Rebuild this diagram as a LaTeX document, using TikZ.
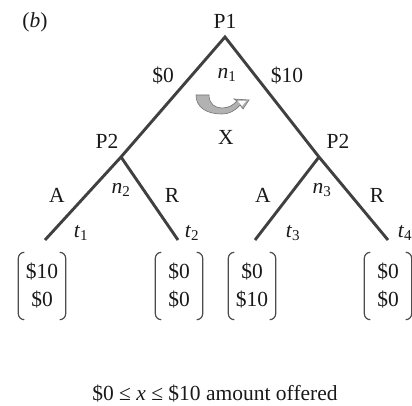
\documentclass[tikz,border=0pt]{standalone}
\usepackage{fontspec}
\setmainfont{Liberation Serif}
\begin{document}
\begin{tikzpicture}[x=1pt,y=-1pt,
  edge/.style={draw=black!75, line width=2.9pt, line join=miter},
  lbl/.style={font=\fontsize{21.5}{25}\selectfont, inner sep=0pt, text=black!90},
  vec/.style={font=\fontsize{21.5}{28}\selectfont, inner sep=0pt, align=center, minimum width=47pt, minimum height=67pt, text=black!90},
  br/.style={draw=black!70, line width=1.2pt}]
\useasboundingbox (0,0) rectangle (412,406);
% tree points
\coordinate (p1) at (225,37);
\coordinate (n2) at (121,157);
\coordinate (n3) at (319,157);
\coordinate (t1) at (45,240);
\coordinate (t2) at (178,240);
\coordinate (t3) at (255,240);
\coordinate (t4) at (388,240);
% edges
\draw[edge] (t1) -- (n2) -- (p1) -- (n3) -- (t4);
\draw[edge] (n2) -- (t2);
\draw[edge] (n3) -- (t3);
% labels
\node[lbl] (lb) at (35,22) {(\textit{b})};
\node[lbl] (lp1) at (225,21) {P1};
\node[lbl] (l0) at (163,76) {\$0};
\node[lbl] (l10) at (287,76) {\$10};
\node[lbl] (ln1) at (227,75) {\textit{n}\textsubscript{1}};
\node[lbl] (lx) at (226,137) {X};
\node[lbl] (lp2a) at (107,141) {P2};
\node[lbl] (lp2b) at (338,141) {P2};
\node[lbl] (la1) at (57,195) {A};
\node[lbl] (ln2) at (121,190) {\textit{n}\textsubscript{2}};
\node[lbl] (lr1) at (172,195) {R};
\node[lbl] (la2) at (263,195) {A};
\node[lbl] (ln3) at (322,190) {\textit{n}\textsubscript{3}};
\node[lbl] (lr2) at (377,195) {R};
\node[lbl] (lt1) at (81,233) {\textit{t}\textsubscript{1}};
\node[lbl] (lt2) at (192,233) {\textit{t}\textsubscript{2}};
\node[lbl] (lt3) at (293,233) {\textit{t}\textsubscript{3}};
\node[lbl] (lt4) at (405,233) {\textit{t}\textsubscript{4}};
% curved arrow
\filldraw[fill=black!30, draw=black!55, line width=0.6pt]
  (196,95) -- (209,95) .. controls (209,104) and (215,108) .. (222,108)
  .. controls (229,108) and (233,105) .. (237,101) -- (234,99) -- (249,100)
  -- (243,109) -- (240,105) .. controls (235,111) and (229,114) .. (222,114)
  .. controls (206,114) and (196,107) .. (196,95) -- cycle;
\fill[white] (238,101) -- (246,101) -- (242,106) -- cycle;
% payoff vectors
\node[vec] (v1) at (42,286) {\$10\\\$0};
\node[vec] (v2) at (179,286) {\$0\\\$0};
\node[vec] (v3) at (252,286) {\$0\\\$10};
\node[vec] (v4) at (388,286) {\$0\\\$0};
\foreach \v in {v1,v2,v3,v4}{
  \draw[br] ([xshift=6pt]\v.north west) to[out=180,in=90] ([yshift=-6pt]\v.north west)
     -- ([yshift=6pt]\v.south west) to[out=-90,in=180] ([xshift=6pt]\v.south west);
  \draw[br] ([xshift=-6pt]\v.north east) to[out=0,in=90] ([yshift=-6pt]\v.north east)
     -- ([yshift=6pt]\v.south east) to[out=-90,in=0] ([xshift=-6pt]\v.south east);
}
\node[lbl] (cap) at (215,394) {\$0 ≤ \textit{x} ≤ \$10 amount offered};
\end{tikzpicture}
\end{document}
